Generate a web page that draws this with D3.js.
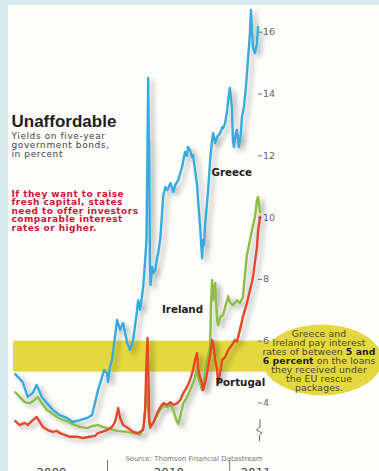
<!DOCTYPE html>
<html>
<head>
<meta charset="utf-8">
<script src="https://cdn.jsdelivr.net/npm/d3@7"></script>
<style>
  html, body { margin: 0; padding: 0; background: #d5e9ef; }
  svg { display: block; }
</style>
</head>
<body>
<svg id="chart" width="379" height="471"></svg>
<script>
// Five-year government bond yields, in percent
const greece = [
  ["2009-04-02", 4.92], ["2009-04-24", 4.66], ["2009-05-09", 4.18], ["2009-05-24", 4.31],
  ["2009-06-05", 4.57], ["2009-06-20", 4.18], ["2009-07-05", 3.98], ["2009-07-23", 3.76],
  ["2009-08-13", 3.59], ["2009-09-03", 3.50], ["2009-09-21", 3.37], ["2009-10-12", 3.43],
  ["2009-11-02", 3.50], ["2009-11-17", 3.59], ["2009-11-26", 3.98], ["2009-12-05", 4.40],
  ["2009-12-17", 4.82], ["2009-12-23", 5.05], ["2010-01-01", 4.95], ["2010-01-04", 4.66],
  ["2010-01-10", 5.15], ["2010-01-16", 5.38], ["2010-01-31", 6.67], ["2010-02-09", 6.35],
  ["2010-02-18", 6.57], ["2010-03-02", 5.93], ["2010-03-11", 5.70], ["2010-03-20", 6.02],
  ["2010-04-01", 7.00], ["2010-04-04", 7.31], ["2010-04-10", 7.00], ["2010-04-19", 7.74],
  ["2010-04-25", 8.61], ["2010-04-29", 9.30], ["2010-05-04", 14.50], ["2010-05-06", 12.10],
  ["2010-05-07", 12.50], ["2010-05-09", 8.60], ["2010-05-11", 7.80], ["2010-05-16", 8.39],
  ["2010-05-19", 8.19], ["2010-05-25", 8.29], ["2010-05-31", 8.71], ["2010-06-03", 8.84],
  ["2010-06-09", 9.30], ["2010-06-15", 10.22], ["2010-06-18", 10.70], ["2010-06-24", 10.97],
  ["2010-06-30", 10.87], ["2010-07-03", 10.93], ["2010-07-09", 11.10], ["2010-07-15", 10.93],
  ["2010-07-18", 10.81], ["2010-07-24", 11.04], ["2010-08-02", 11.20], ["2010-08-13", 11.62],
  ["2010-08-22", 12.11], ["2010-08-28", 11.98], ["2010-08-31", 12.27], ["2010-09-06", 12.17],
  ["2010-09-12", 11.95], ["2010-09-15", 12.00], ["2010-09-27", 11.04], ["2010-09-30", 10.55],
  ["2010-10-06", 9.71], ["2010-10-12", 8.67], ["2010-10-15", 9.25], ["2010-10-18", 9.10],
  ["2010-10-21", 9.74], ["2010-10-30", 10.87], ["2010-11-05", 11.84], ["2010-11-11", 12.49],
  ["2010-11-14", 12.72], ["2010-11-20", 12.39], ["2010-11-26", 12.59], ["2010-12-05", 12.72],
  ["2010-12-11", 12.91], ["2010-12-14", 12.88], ["2010-12-20", 13.05], ["2010-12-26", 13.47],
  ["2010-12-29", 13.79], ["2011-01-03", 14.18], ["2011-01-09", 13.56], ["2011-01-12", 12.49],
  ["2011-01-15", 12.27], ["2011-01-21", 12.72], ["2011-01-24", 12.82], ["2011-01-30", 12.27],
  ["2011-02-05", 12.72], ["2011-02-08", 13.24], ["2011-02-14", 13.56], ["2011-02-20", 14.21],
  ["2011-02-26", 15.08], ["2011-03-04", 15.96], ["2011-03-07", 16.70], ["2011-03-10", 16.06],
  ["2011-03-13", 15.50], ["2011-03-19", 15.31], ["2011-03-25", 15.63], ["2011-03-28", 16.15]
];

const ireland = [
  ["2009-04-02", 4.33], ["2009-04-15", 4.18], ["2009-04-30", 4.01], ["2009-05-15", 3.98],
  ["2009-05-30", 4.08], ["2009-06-08", 4.18], ["2009-06-20", 3.98], ["2009-07-05", 3.76],
  ["2009-07-23", 3.63], ["2009-08-13", 3.47], ["2009-09-03", 3.40], ["2009-09-21", 3.30],
  ["2009-10-12", 3.21], ["2009-11-02", 3.17], ["2009-11-20", 3.24], ["2009-12-05", 3.27],
  ["2009-12-20", 3.21], ["2010-01-10", 3.14], ["2010-01-31", 3.08], ["2010-03-02", 3.05],
  ["2010-03-20", 3.01], ["2010-04-10", 2.95], ["2010-04-21", 3.27], ["2010-04-27", 4.08],
  ["2010-05-01", 4.57], ["2010-05-04", 3.76], ["2010-05-10", 3.17], ["2010-05-19", 3.34],
  ["2010-05-31", 3.60], ["2010-06-09", 3.76], ["2010-06-18", 3.89], ["2010-06-30", 3.85],
  ["2010-07-09", 3.92], ["2010-07-18", 3.76], ["2010-07-27", 3.43], ["2010-08-02", 3.30],
  ["2010-08-08", 3.56], ["2010-08-17", 3.98], ["2010-08-28", 4.18], ["2010-09-06", 4.40],
  ["2010-09-15", 4.63], ["2010-09-21", 4.82], ["2010-09-27", 5.15], ["2010-09-30", 4.82],
  ["2010-10-06", 4.63], ["2010-10-12", 4.40], ["2010-10-15", 4.50], ["2010-10-21", 5.05],
  ["2010-10-27", 5.38], ["2010-11-05", 5.80], ["2010-11-08", 7.31], ["2010-11-11", 7.96],
  ["2010-11-14", 7.31], ["2010-11-20", 7.86], ["2010-11-26", 6.67], ["2010-11-29", 6.50],
  ["2010-12-05", 6.77], ["2010-12-14", 6.83], ["2010-12-20", 7.09], ["2010-12-29", 7.44],
  ["2011-01-03", 7.25], ["2011-01-12", 7.15], ["2011-01-24", 7.31], ["2011-02-02", 7.21],
  ["2011-02-11", 7.41], ["2011-02-17", 8.12], ["2011-02-23", 8.77], ["2011-03-04", 9.25],
  ["2011-03-10", 9.58], ["2011-03-19", 10.00], ["2011-03-25", 10.55], ["2011-03-28", 10.65],
  ["2011-04-03", 10.16]
];

const portugal = [
  ["2009-04-02", 3.40], ["2009-04-15", 3.27], ["2009-04-30", 3.34], ["2009-05-09", 3.27],
  ["2009-05-24", 3.43], ["2009-06-05", 3.53], ["2009-06-14", 3.37], ["2009-06-23", 3.21],
  ["2009-07-08", 3.11], ["2009-07-23", 3.05], ["2009-08-04", 3.08], ["2009-08-13", 3.01],
  ["2009-08-28", 2.95], ["2009-09-12", 2.89], ["2009-10-03", 2.89], ["2009-10-21", 2.85],
  ["2009-11-11", 2.89], ["2009-11-26", 2.92], ["2009-12-05", 3.01], ["2009-12-17", 3.05],
  ["2010-01-01", 3.11], ["2010-01-16", 3.21], ["2010-01-25", 3.37], ["2010-01-31", 3.66],
  ["2010-02-03", 3.82], ["2010-02-09", 3.50], ["2010-02-18", 3.27], ["2010-03-05", 3.17],
  ["2010-03-20", 3.05], ["2010-04-04", 3.01], ["2010-04-19", 3.11], ["2010-04-25", 3.76],
  ["2010-04-28", 5.05], ["2010-05-02", 6.09], ["2010-05-05", 4.73], ["2010-05-07", 3.43],
  ["2010-05-10", 3.21], ["2010-05-19", 3.34], ["2010-05-31", 3.66], ["2010-06-09", 3.85],
  ["2010-06-18", 3.98], ["2010-06-30", 3.92], ["2010-07-09", 4.01], ["2010-07-18", 3.92],
  ["2010-07-30", 3.98], ["2010-08-08", 4.08], ["2010-08-17", 4.31], ["2010-08-28", 4.50],
  ["2010-09-06", 4.73], ["2010-09-15", 5.05], ["2010-09-21", 5.38], ["2010-09-27", 5.60],
  ["2010-09-30", 5.12], ["2010-10-06", 4.82], ["2010-10-12", 4.63], ["2010-10-15", 4.40],
  ["2010-10-21", 4.63], ["2010-10-27", 4.95], ["2010-11-05", 5.54], ["2010-11-11", 6.02],
  ["2010-11-14", 5.93], ["2010-11-20", 5.38], ["2010-11-26", 5.05], ["2010-11-29", 4.63],
  ["2010-12-05", 4.95], ["2010-12-11", 5.38], ["2010-12-20", 5.47], ["2010-12-29", 5.70],
  ["2011-01-09", 5.86], ["2011-01-18", 6.02], ["2011-01-24", 5.96], ["2011-02-02", 6.35],
  ["2011-02-11", 6.77], ["2011-02-23", 7.22], ["2011-03-04", 7.64], ["2011-03-10", 7.90],
  ["2011-03-13", 8.06], ["2011-03-19", 8.55], ["2011-03-25", 9.03], ["2011-03-28", 9.52],
  ["2011-04-03", 10.01]
];

// Axis ticks and labels
const yTicks = [4, 6, 8, 10, 12, 14, 16];
const yearTicks = ["2010-01-01", "2011-01-01"];
const yearLabels = [["2009-07-19", "2009"], ["2010-07-05", "2010"], ["2011-03-21", "2011"]];
// Range of the EU rescue loan rates
const rescueBand = [5, 6];

const parse = d3.utcParse("%Y-%m-%d");
const svg = d3.select("#chart");

const x = d3.scaleUtc()
  .domain([parse("2009-04-01"), parse("2011-04-03")])
  .range([15, 260]);
const y = d3.scaleLinear().domain([4, 16]).range([402.5, 31.7]);

// drop shadow for the lines
const defs = svg.append("defs");
const f = defs.append("filter").attr("id", "shadow")
  .attr("x", "-20%").attr("y", "-20%").attr("width", "140%").attr("height", "140%");
f.append("feGaussianBlur").attr("in", "SourceAlpha").attr("stdDeviation", 2.6).attr("result", "b");
f.append("feOffset").attr("in", "b").attr("dx", 3.5).attr("dy", 3).attr("result", "o");
f.append("feComponentTransfer").attr("in", "o").attr("result", "s")
  .append("feFuncA").attr("type", "linear").attr("slope", 0.3);
const m = f.append("feMerge");
m.append("feMergeNode").attr("in", "s");
m.append("feMergeNode").attr("in", "SourceGraphic");

// panel
svg.append("rect").attr("x", 0).attr("y", 0).attr("width", 379).attr("height", 471).attr("fill", "#d5e9ef");
svg.append("rect").attr("x", 8).attr("y", 5).attr("width", 371).attr("height", 466).attr("fill", "#fdfdfb");

// yellow band
const bandColor = "#e3d83e";
svg.append("rect")
  .attr("x", 13).attr("width", 320)
  .attr("y", y(rescueBand[1])).attr("height", y(rescueBand[0]) - y(rescueBand[1]))
  .attr("fill", bandColor);

// right axis
const yAxis = d3.axisRight(y).tickValues(yTicks).tickSize(4).tickPadding(1).tickFormat(d3.format("d"));
const gy = svg.append("g").attr("transform", "translate(258,0)").call(yAxis);
gy.select(".domain").remove();
gy.selectAll("line").attr("stroke", "#777");
gy.selectAll("text").attr("fill", "#666").style("font", "9.5px 'DejaVu Sans'");

// axis break mark
svg.append("path")
  .attr("d", "M260,419 V427 L256.5,430 L262,433 L259.5,435.5 V441")
  .attr("fill", "none").attr("stroke", "#666").attr("stroke-width", 1);

// year ticks and labels
const xAxis = d3.axisBottom(x).tickValues(yearTicks.map(parse)).tickSize(12).tickFormat("");
const gx = svg.append("g").attr("transform", "translate(0,460)").call(xAxis);
gx.select(".domain").remove();
gx.selectAll("line").attr("stroke", "#777");

svg.append("g").selectAll("text").data(yearLabels).join("text")
  .attr("x", d => x(parse(d[0]))).attr("y", 477)
  .attr("text-anchor", "middle")
  .attr("fill", "#444").style("font", "12px 'DejaVu Sans'")
  .text(d => d[1]);

// lines
const line = d3.line().x(d => x(parse(d[0]))).y(d => y(d[1]));
const lines = svg.append("g").attr("filter", "url(#shadow)");
[[ireland, "#8cbd45"], [portugal, "#e5472b"], [greece, "#38abde"]].forEach(([data, color]) => {
  lines.append("path").datum(data).attr("d", line)
    .attr("fill", "none").attr("stroke", color).attr("stroke-width", 2.4)
    .attr("stroke-linejoin", "round").attr("stroke-linecap", "round");
});

// country labels
const labelStyle = "bold 10.3px 'DejaVu Sans'";
[["Greece", 211.5, 176], ["Ireland", 162, 313], ["Portugal", 215.5, 386]].forEach(([t, lx, ly]) => {
  svg.append("text").attr("x", lx).attr("y", ly).attr("fill", "#222").style("font", labelStyle).text(t);
});

// title block
svg.append("text").attr("x", 11.5).attr("y", 127).attr("fill", "#1e1e1e")
  .style("font", "bold 17px 'Liberation Sans'").text("Unaffordable");
["Yields on five-year", "government bonds,", "in percent"].forEach((t, i) => {
  svg.append("text").attr("x", 11.5).attr("y", 139 + i * 9).attr("fill", "#444")
    .style("font", "9px 'DejaVu Sans'").style("letter-spacing", "0.6px").text(t);
});
["If they want to raise", "fresh capital, states", "need to offer investors",
 "comparable interest", "rates or higher."].forEach((t, i) => {
  svg.append("text").attr("x", 11.5).attr("y", 196.5 + i * 8.5).attr("fill", "#cc1537")
    .style("font", "bold 9px 'DejaVu Sans'").style("letter-spacing", "0.45px").text(t);
});

// annotation bubble
svg.append("ellipse").attr("cx", 322).attr("cy", 360).attr("rx", 60).attr("ry", 35.5).attr("fill", bandColor);
const note = [
  [["Greece and", false]],
  [["Ireland pay interest", false]],
  [["rates of between ", false], ["5 and", true]],
  [["6 percent", true], [" on the loans", false]],
  [["they received under", false]],
  [["the EU rescue", false]],
  [["packages.", false]]
];
note.forEach((parts, i) => {
  const t = svg.append("text").attr("x", 319).attr("y", 337 + i * 9)
    .attr("text-anchor", "middle").attr("fill", "#4a4628")
    .style("font", "9.3px 'DejaVu Sans'").style("letter-spacing", "0.1px");
  parts.forEach(([s, b]) => t.append("tspan").attr("font-weight", b ? "bold" : "normal").attr("fill", b ? "#222" : null).text(s));
});

// source line
svg.append("text").attr("x", 194).attr("y", 460.5).attr("text-anchor", "middle")
  .attr("fill", "#777").style("font", "7px 'DejaVu Sans'")
  .text("Source: Thomson Financial Datastream");
</script>
</body>
</html>
